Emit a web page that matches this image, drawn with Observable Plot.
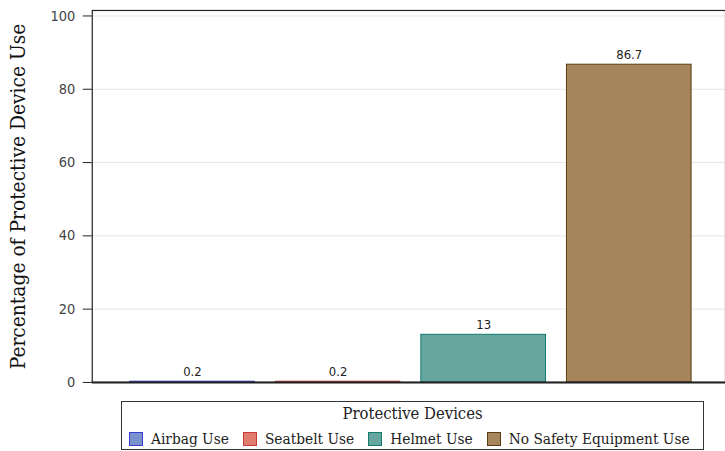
<!DOCTYPE html>
<html>
<head>
<meta charset="utf-8">
<script src="https://cdn.jsdelivr.net/npm/d3@7"></script>
<script src="https://cdn.jsdelivr.net/npm/@observablehq/plot@0.6"></script>
<style>
  html, body { margin: 0; padding: 0; background: #fff; overflow: hidden; }
  #wrap { position: relative; width: 725px; height: 451px; }
  #legend {
    position: absolute; left: 121px; top: 401px; width: 581px; height: 47px;
    border: 1px solid #333; box-sizing: content-box;
    font-family: "DejaVu Serif Condensed", "DejaVu Serif", serif; font-stretch: condensed; color: #222;
  }
  #legend .title { position: absolute; left: 0; right: 0; top: 1px; text-align: center; font-size: 16.5px; line-height: 22px; }
  #legend .items { position: absolute; left: 7px; top: 28px; white-space: nowrap; font-size: 15.3px; line-height: 18px; }
  #legend .item { display: inline-block; margin-right: 14px; }
  #legend .sw { display: inline-block; width: 12px; height: 12px; vertical-align: -2px; margin-right: 8px; border: 1px solid; }
</style>
</head>
<body>
<div id="wrap"></div>
<script>
const categories = ["Airbag Use", "Seatbelt Use", "Helmet Use", "No Safety Equipment Use"];
const values = [0.2, 0.2, 13, 86.7];
const labels = ["0.2", "0.2", "13", "86.7"];
const fills = ["#7b93cc", "#e07d6e", "#66a69f", "#a6855b"];
const strokes = ["#3b3bd6", "#c83c3c", "#137a6d", "#5b3c14"];
const yTicks = [0, 20, 40, 60, 80, 100];
const yMax = 101.5;
const legendTitle = "Protective Devices";
const yLabel = "Percentage of Protective Device Use";

const data = categories.map((c, i) => ({category: c, value: values[i], label: labels[i]}));

const plot = Plot.plot({
  width: 727,
  height: 395,
  marginLeft: 92,
  marginRight: 0,
  marginTop: 10,
  marginBottom: 12,
  style: {fontFamily: "'DejaVu Sans Condensed', 'DejaVu Sans', sans-serif", fontStretch: "condensed", fontSize: "14.5px", color: "#444", background: "#fff"},
  x: {domain: categories, range: [130, 693], paddingInner: 0.144, paddingOuter: 0, axis: null},
  y: {domain: [0, yMax], ticks: yTicks},
  color: {domain: categories, range: fills},
  marks: [
    Plot.gridY(yTicks, {stroke: "#e6e6e6", strokeOpacity: 1}),
    Plot.barY(data, {x: "category", y: "value", fill: "category", stroke: (d) => strokes[categories.indexOf(d.category)], strokeWidth: 1}),
    Plot.text(data, {x: "category", y: "value", text: "label", lineAnchor: "bottom", dy: -6, fontSize: 13, fill: "#222"}),
    Plot.axisY({ticks: yTicks, tickSize: 9, tickPadding: 8, label: null, stroke: "#222", fill: "#444"}),
    Plot.frame({stroke: "#222", strokeWidth: 1.2}),
    Plot.ruleY([0], {stroke: "#222", strokeWidth: 2}),
    Plot.text([yLabel], {frameAnchor: "middle", rotate: -90, dx: 18 - (92 + 727) / 2, dy: 0, fontSize: 20.8, fontFamily: "'DejaVu Serif Condensed', 'DejaVu Serif', serif", fontStretch: "condensed", fill: "#111"})
  ]
});

const wrap = document.getElementById("wrap");
wrap.appendChild(plot);

const legend = document.createElement("div");
legend.id = "legend";
const t = document.createElement("div");
t.className = "title";
t.textContent = legendTitle;
legend.appendChild(t);
const items = document.createElement("div");
items.className = "items";
categories.forEach((c, i) => {
  const it = document.createElement("span");
  it.className = "item";
  const sw = document.createElement("span");
  sw.className = "sw";
  sw.style.background = fills[i];
  sw.style.borderColor = strokes[i];
  it.appendChild(sw);
  it.appendChild(document.createTextNode(c));
  items.appendChild(it);
});
legend.appendChild(items);
wrap.appendChild(legend);
</script>
</body>
</html>
